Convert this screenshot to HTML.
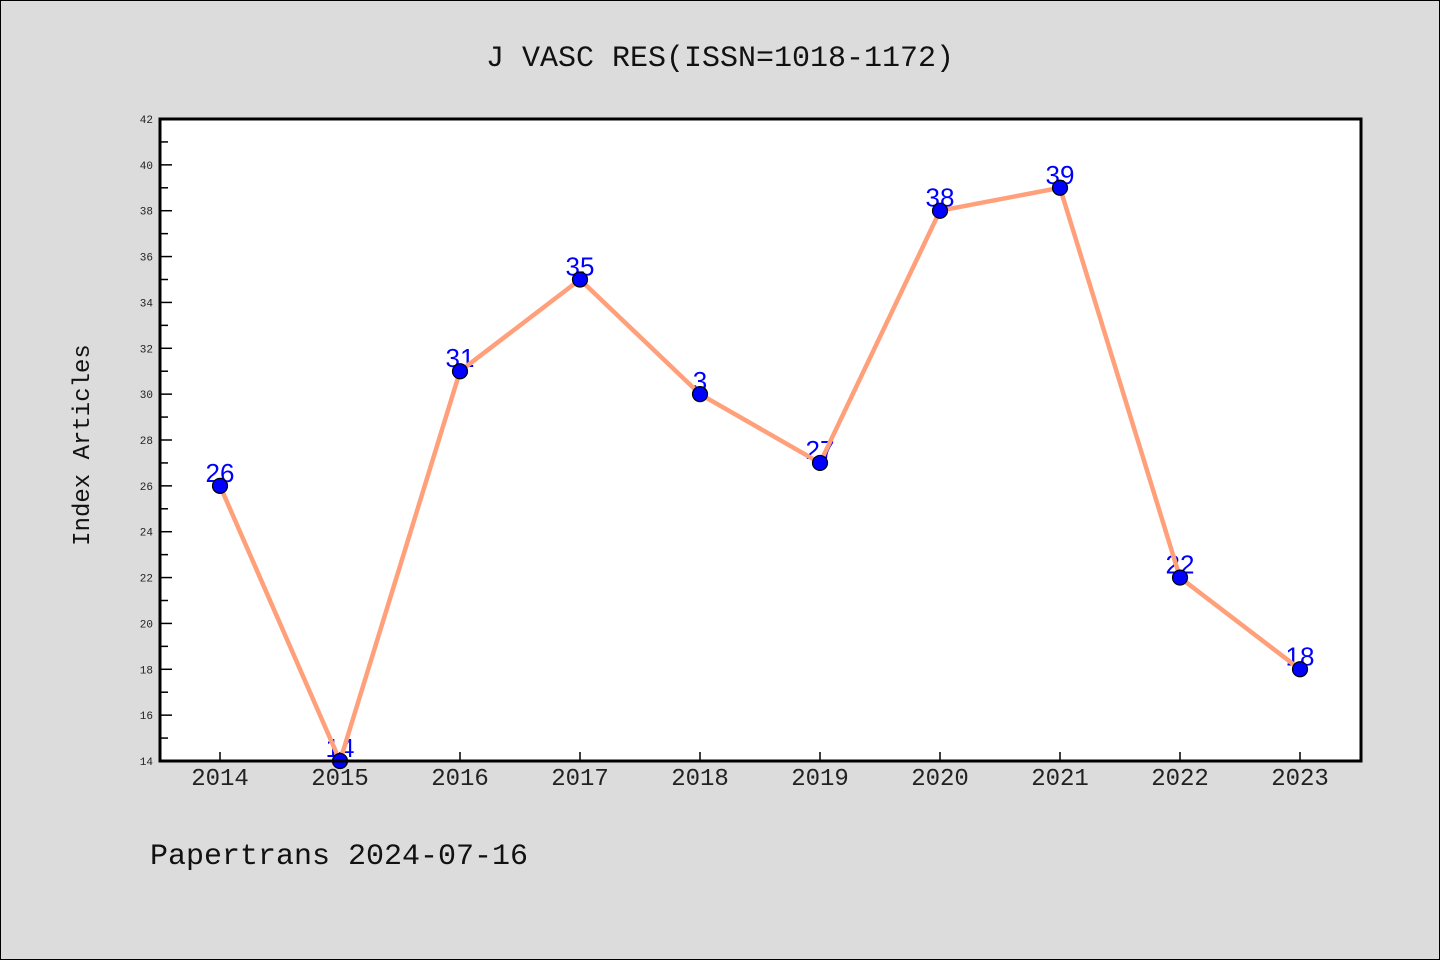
<!DOCTYPE html>
<html><head><meta charset="utf-8"><style>
html,body{margin:0;padding:0;background:#dcdcdc;}
svg{display:block;font-family:"Liberation Mono","DejaVu Sans Mono",monospace;}
</style></head><body>
<svg id="chart" width="1440" height="960" viewBox="0 0 1440 960" xmlns="http://www.w3.org/2000/svg">
<rect x="0.5" y="0.5" width="1439" height="959" fill="#dcdcdc" stroke="#000"/>
<text x="720" y="66" text-anchor="middle" font-size="30" fill="#111">J VASC RES(ISSN=1018-1172)</text>
<rect x="160" y="119" width="1201" height="642" fill="#fff"/>
<g id="ticks"></g>
<g id="labels"></g>
<g id="line"></g>
<g id="points"></g>
<rect x="160" y="119" width="1201" height="642" fill="none" stroke="#000" stroke-width="3"/>
<text transform="translate(89,445) rotate(-90)" text-anchor="middle" font-size="24" fill="#111">Index Articles</text>
<text x="150" y="864" font-size="30" fill="#111">Papertrans 2024-07-16</text>
</svg>
<script>
const years = [2014,2015,2016,2017,2018,2019,2020,2021,2022,2023];
const counts = [26,14,31,35,30,27,38,39,22,18];
const pointLabels = ["26","14","31","35","3","27","38","39","22","18"];
const yTicks = [14,16,18,20,22,24,26,28,30,32,34,36,38,40,42];
const NS = "http://www.w3.org/2000/svg";
const yMin = 14, yMax = 42, yTop = 119, yBottom = 761;
function ys(v){ return yBottom - (v - yMin) / (yMax - yMin) * (yBottom - yTop); }
function xs(i){ return 220 + i * 120; }
function mk(tag, attrs, parent){ const e = document.createElementNS(NS, tag); for (const k in attrs) e.setAttribute(k, attrs[k]); parent.appendChild(e); return e; }
const tg = document.getElementById('ticks');
for (let v = yMin; v <= yMax; v++) {
  const major = v % 2 === 0;
  const t = mk('line', {x1:160, x2: major ? 172 : 168, y1: ys(v), y2: ys(v), stroke:'#000', 'stroke-width':1.5}, tg);
  
  
}
yTicks.forEach(v => {
  const t = mk('text', {x:153, y: ys(v) + 4, 'text-anchor':'end', 'font-size':11, fill:'#222'}, tg);
  t.textContent = v;
  
  
});
years.forEach((yr, i) => {
  const l = mk('line', {x1: xs(i), x2: xs(i), y1: 761, y2: 752, stroke:'#000', 'stroke-width':1.5}, tg);
  
  
  const t = mk('text', {x: xs(i), y: 785, 'text-anchor':'middle', 'font-size':24, fill:'#222'}, tg);
  t.textContent = yr;
  
  
});
const lg = document.getElementById('labels');
counts.forEach((c, i) => {
  const t = mk('text', {x: xs(i), y: ys(c) - 4, 'text-anchor':'middle', 'font-size':26, fill:'#0000ff', 'font-family':'"Liberation Sans",sans-serif'}, lg);
  t.textContent = pointLabels[i];
  
  
});
const pl = mk('polyline', {points: counts.map((c, i) => xs(i) + ',' + ys(c)).join(' '), fill:'none', stroke:'#ffa07a', 'stroke-width':4.5, 'stroke-linejoin':'round'}, document.getElementById('line'));


const pg = document.getElementById('points');
counts.forEach((c, i) => {
  const p = mk('circle', {cx: xs(i), cy: ys(c), r: 7.5, fill:'#0000ff', stroke:'#000', 'stroke-width':1.2}, pg);
  
  
});
</script>
</body></html>
